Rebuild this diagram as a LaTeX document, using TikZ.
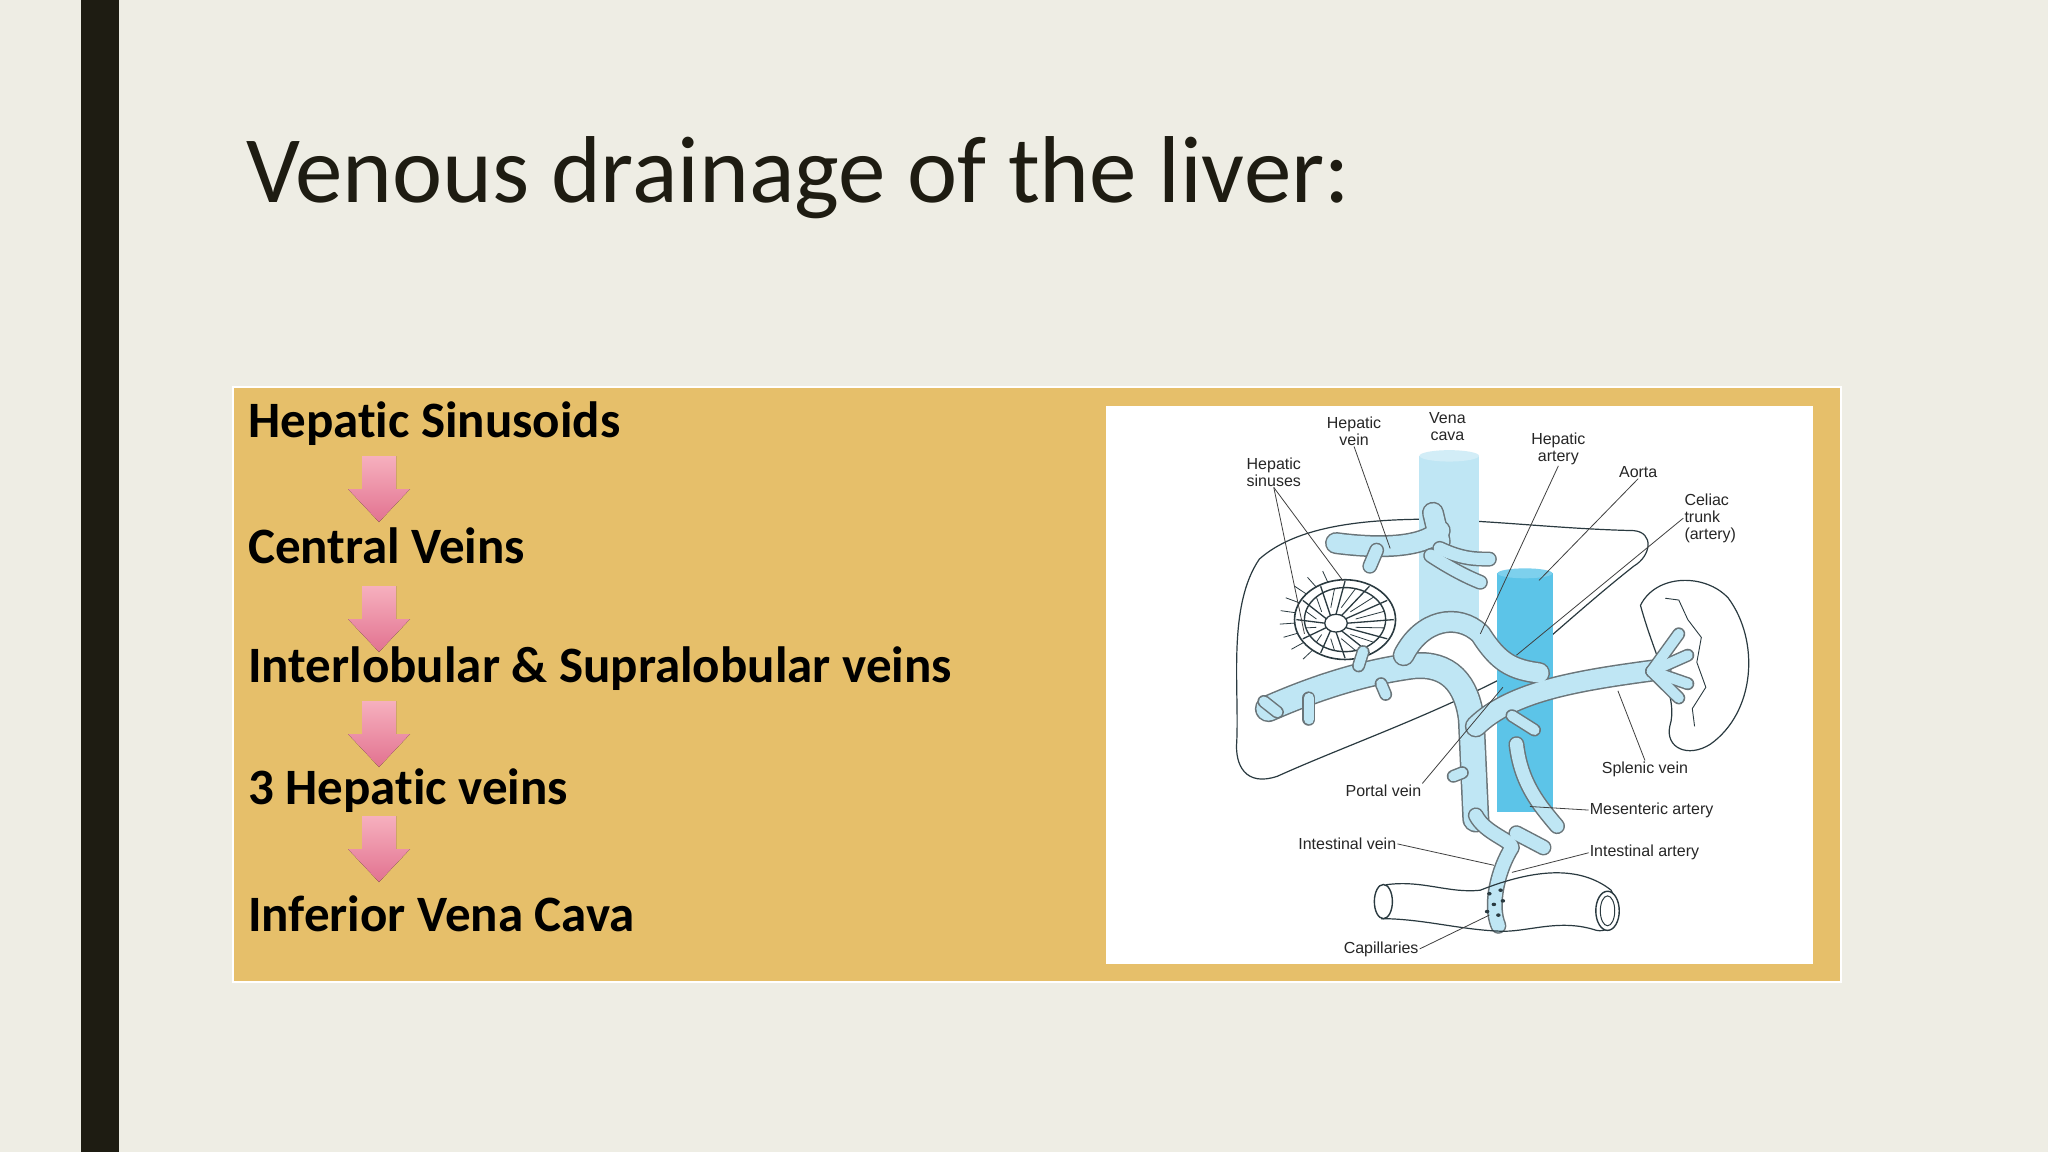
\documentclass[tikz,border=0pt]{standalone}
\usepackage{fontspec}
\setmainfont{Carlito}[Ligatures=NoCommon]
\newfontfamily\lblfont{Liberation Sans}
\definecolor{bg}{HTML}{EEEDE4}
\definecolor{bar}{HTML}{1E1C12}
\definecolor{panel}{HTML}{E6BF6A}
\definecolor{lblue}{HTML}{BFE6F4}
\definecolor{dblue}{HTML}{5CC4E8}
\definecolor{vline}{HTML}{2A3A40}
\definecolor{pinkA}{HTML}{F6B0BE}
\definecolor{pinkB}{HTML}{E27290}
\tikzset{
  flowtxt/.style={anchor=west,font=\fontsize{51}{55}\selectfont\bfseries,text=black,inner sep=0pt},
  pinkfill/.style={top color=pinkA,bottom color=pinkB,draw=none},
  lbl/.style={font=\lblfont\fontsize{16}{17}\selectfont,align=center,text=black!85,inner sep=1pt},
  lead/.style={draw=black!75,line width=0.8pt},
  vessel/.style={line cap=round,line join=round},
  vout/.style={vline!70,line cap=round,line join=round},
}
\newcommand\pinkarr[1]{%
  \fill[pinkfill] ($(#1)+(-17,-33)$) -- ($(#1)+(17,-33)$) -- ($(#1)+(17,0)$) -- ($(#1)+(31,0)$)
     -- ($(#1)+(0,33)$) -- ($(#1)+(-31,0)$) -- ($(#1)+(-17,0)$) -- cycle;}
\usetikzlibrary{calc}
\begin{document}
\begin{tikzpicture}[x=1pt,y=-1pt]
\useasboundingbox (0,0) rectangle (2048,1152);
\fill[bg] (0,0) rectangle (2048,1152);
\fill[bar] (81,0) rectangle (119,1152);
\node[anchor=base west,inner sep=0pt,font=\fontsize{95}{100}\selectfont,text=bar] (title) at (246,202) {Venous drainage of the liver:};
\draw[white,line width=2pt,fill=panel] (233,387) rectangle (1841,982);
\node[flowtxt] (t1) at (248,424) {Hepatic Sinusoids};
\node[flowtxt] (t2) at (248,546) {Central Veins};
\node[flowtxt] (t3) at (248,669) {Interlobular \& Supralobular veins};
\node[flowtxt] (t4) at (248,791) {3 Hepatic veins};
\node[flowtxt] (t5) at (248,914) {Inferior Vena Cava};
\coordinate (a1) at (379,489); \coordinate (a2) at (379,619);
\coordinate (a3) at (379,734); \coordinate (a4) at (379,849);
\pinkarr{a1}\pinkarr{a2}\pinkarr{a3}\pinkarr{a4}
\fill[white] (1106,406) rectangle (1813,964);
\begin{scope}[shift={(1106pt,-406pt)},x=0.451pt,y=-0.356pt]
 % liver outline
 \draw[vline,line width=1.2pt] (340,430) .. controls (420,340) and (560,320) .. (700,318)
   .. controls (850,320) and (1000,345) .. (1170,350) .. controls (1215,355) and (1210,420) .. (1170,450)
   .. controls (1060,560) and (960,680) .. (870,770)
   .. controls (700,880) and (520,960) .. (380,1040) .. controls (310,1070) and (285,1010) .. (290,940)
   .. controls (295,780) and (270,560) .. (340,430);
 % spleen
 \draw[vline,line width=1.2pt] (1185,560) .. controls (1220,470) and (1330,470) .. (1380,540)
   .. controls (1450,660) and (1440,860) .. (1340,950) .. controls (1290,990) and (1240,960) .. (1250,900)
   .. controls (1270,820) and (1220,720) .. (1185,560);
 \draw[vline,line width=0.9pt] (1240,540) -- (1270,545) -- (1290,600) -- (1320,650) -- (1310,720) -- (1330,790) -- (1300,850) -- (1305,900);
 % vena cava
 \fill[lblue] (695,140) rectangle (828,600);
 \fill[lblue!70!white] (761,140) ellipse (66 and 16);
 % aorta
 \fill[dblue] (868,470) rectangle (990,1140);
 \fill[dblue!80!white] (929,470) ellipse (61 and 14);
 % hepatic vein
 \begin{scope}
 \foreach \w/\c in {22pt/vout,19pt/lblue}{
 \draw[\c,line width=\w,vessel] (510,385) .. controls (600,400) and (700,400) .. (740,350);
 \draw[\c,line width=\w,vessel] (725,300) -- (740,380);}
 \foreach \w/\c in {15pt/vout,12pt/lblue}{
 \draw[\c,line width=\w,vessel] (740,400) .. controls (790,430) and (820,430) .. (850,430);
 \draw[\c,line width=\w,vessel] (720,420) .. controls (780,470) and (820,490) .. (830,495);
 \draw[\c,line width=\w,vessel] (600,405) -- (585,450);}
 \end{scope}
 % lobule
 \draw[vline,line width=1.6pt] (530,600) circle (112);
 \draw[vline,line width=1.4pt] (530,600) circle (90);
 \draw[vline,line width=1.3pt] (510,610) circle (25);
 \foreach \a in {0,30,...,330} \draw[vline,line width=1.3pt] ({510+25*cos(\a)},{610+25*sin(\a)}) -- ({530+108*cos(\a)},{600+108*sin(\a)});
 \foreach \a in {15,45,...,345} \draw[vline,line width=0.8pt] ({510+45*cos(\a)},{610+45*sin(\a)}) -- ({530+90*cos(\a)},{600+90*sin(\a)});
 \foreach \a in {130,145,...,260} \draw[vline,line width=0.8pt] ({530+112*cos(\a)},{600+112*sin(\a)}) -- ({530+145*cos(\a)},{600+145*sin(\a)});
 % portal vein system
 \foreach \w/\c in {27pt/vout,24pt/lblue}{
 \draw[\c,line width=\w,vessel] (360,850) .. controls (450,800) and (560,750) .. (680,730)
   .. controls (760,720) and (800,780) .. (810,880) -- (820,1160);}
 \foreach \w/\c in {22pt/vout,19pt/lblue}{
 \draw[\c,line width=\w,vessel] (660,700) .. controls (700,600) and (780,580) .. (830,640)
   .. controls (870,720) and (900,740) .. (960,750);
 \draw[\c,line width=\w,vessel] (820,900) .. controls (900,800) and (1050,770) .. (1230,740);}
 \foreach \w/\c in {13pt/vout,10pt/lblue}{
 \foreach \e in {(1270,640),(1290,700),(1290,780),(1270,820)} \draw[\c,line width=\w,vessel] (1210,745) -- \e;
 \draw[\c,line width=\w,vessel] (380,860) -- (350,830);
 \draw[\c,line width=\w,vessel] (450,820) -- (450,880);
 \draw[\c,line width=\w,vessel] (610,780) -- (620,810);
 \draw[\c,line width=\w,vessel] (900,870) -- (950,910);
 \draw[\c,line width=\w,vessel] (560,730) -- (570,690);
 \draw[\c,line width=\w,vessel] (790,1030) -- (770,1040);}
 % intestinal vessels
 \foreach \w/\c in {16pt/vout,13pt/lblue}{
 \draw[\c,line width=\w,vessel] (910,950) .. controls (920,1060) and (960,1120) .. (1000,1180);
 \draw[\c,line width=\w,vessel] (820,1150) .. controls (840,1200) and (900,1220) .. (900,1240)
   .. controls (870,1300) and (850,1400) .. (870,1460);
 \draw[\c,line width=\w,vessel] (910,1200) -- (970,1240);}
 % intestine
 \draw[vline,line width=1.2pt] (620,1345) .. controls (700,1330) and (760,1370) .. (830,1360)
   .. controls (950,1300) and (1050,1290) .. (1120,1360) .. controls (1150,1430) and (1120,1490) .. (1080,1470)
   .. controls (1000,1440) and (930,1480) .. (870,1475) .. controls (780,1470) and (700,1440) .. (610,1440);
 \draw[vline,line width=1.4pt,fill=white] (615,1392) ellipse (20 and 48);
 \draw[vline,line width=1.4pt,fill=white] (1112,1418) ellipse (26 and 55);
 \draw[vline,line width=1pt] (1112,1418) ellipse (16 and 42);
 \foreach \p in {(850,1370),(860,1400),(870,1430),(880,1390),(845,1420),(875,1360)} \fill[vline] \p circle (5);
 % labels
 \node[lbl] (lhv) at (550,70) {Hepatic\\vein};
 \node[lbl] (lvc) at (757,58) {Vena\\cava};
 \node[lbl] (lha) at (1003,120) {Hepatic\\artery};
 \node[lbl] (lao) at (1180,185) {Aorta};
 \node[lbl,align=left,anchor=west] (lct) at (1280,315) {Celiac\\trunk\\(artery)};
 \node[lbl] (lhs) at (372,185) {Hepatic\\sinuses};
 \node[lbl] (lsv) at (1195,1020) {Splenic vein};
 \node[lbl] (lpv) at (615,1080) {Portal vein};
 \node[lbl,anchor=west] (lma) at (1070,1135) {Mesenteric artery};
 \node[lbl] (liv) at (535,1230) {Intestinal vein};
 \node[lbl,anchor=west] (lia) at (1070,1255) {Intestinal artery};
 \node[lbl] (lcap) at (610,1525) {Capillaries};
 \coordinate (phv) at (630,400); \coordinate (phs1) at (440,640); \coordinate (phs2) at (525,490);
 \coordinate (pha) at (830,640); \coordinate (pao) at (960,490); \coordinate (pct) at (910,700);
 \coordinate (psv) at (1135,800); \coordinate (ppv) at (880,790); \coordinate (pma) at (940,1125);
 \coordinate (piv) at (860,1290); \coordinate (pia) at (900,1310); \coordinate (pcap) at (850,1430);
 \draw[lead] (lhv.south) -- (phv);
 \draw[lead] (lhs.south) -- (phs1); \draw[lead] (lhs.south) -- (phs2);
 \draw[lead] (lha.south) -- (pha);
 \draw[lead] (lao.south) -- (pao);
 \draw[lead] (lct.west) -- (pct);
 \draw[lead] (lsv.north) -- (psv);
 \draw[lead] (lpv.north east) -- (ppv);
 \draw[lead] (lma.west) -- (pma);
 \draw[lead] (liv.east) -- (piv);
 \draw[lead] (lia.west) -- (pia);
 \draw[lead] (lcap.east) -- (pcap);
\end{scope}
\end{tikzpicture}
\end{document}
